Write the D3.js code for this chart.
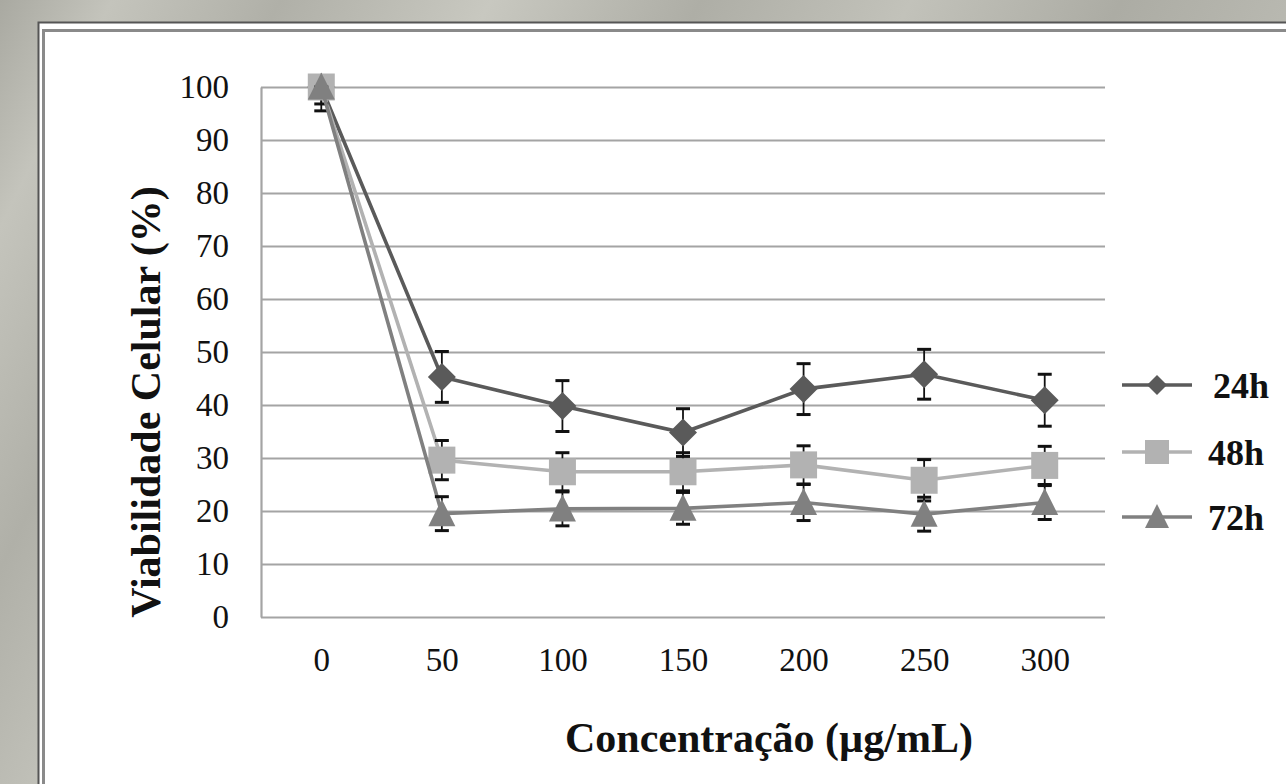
<!DOCTYPE html>
<html>
<head>
<meta charset="utf-8">
<script src="https://cdn.jsdelivr.net/npm/d3@7"></script>
<style>
  html, body { margin: 0; padding: 0; background: #b4b4ac; }
  svg { display: block; }
  text { font-family: "Liberation Serif", "Times New Roman", serif; fill: #111; }
</style>
</head>
<body>
<div id="chart"></div>
<script>
// values
var concentrations = ["0", "50", "100", "150", "200", "250", "300"];
var yTicks = [0, 10, 20, 30, 40, 50, 60, 70, 80, 90, 100];
var seriesNames = ["24h", "48h", "72h"];
var seriesColors = ["#5a5a5a", "#b2b2b2", "#808080"];
var seriesShapes = ["diamond", "square", "triangle"];

var v24 = [100, 45.3, 39.8, 34.8, 43.0, 45.8, 40.9];
var v48 = [100, 29.6, 27.4, 27.4, 28.7, 25.8, 28.6];
var v72 = [100, 19.5, 20.4, 20.5, 21.6, 19.4, 21.6];
var e24 = [4.5, 4.8, 4.8, 4.5, 4.8, 4.7, 4.9];
var e48 = [3.2, 3.7, 3.6, 3.6, 3.6, 3.9, 3.6];
var e72 = [1.5, 3.2, 3.2, 3.0, 3.4, 3.2, 3.2];

var W = 1286, H = 784;

var svg = d3.select("#chart").append("svg")
    .attr("width", W)
    .attr("height", H);

// textured grey backdrop
var defs = svg.append("defs");
var bg = defs.append("linearGradient").attr("id", "bgGrad")
    .attr("x1", "0").attr("x2", "1").attr("y1", "0").attr("y2", "0.3");
[["0", "#a9a9a1"], ["0.08", "#c4c4bc"], ["0.2", "#b0b0a8"], ["0.35", "#c8c8c0"],
 ["0.5", "#aeaea6"], ["0.65", "#c2c2ba"], ["0.8", "#acaca4"], ["1", "#c0c0b8"]].forEach(function(s) {
  bg.append("stop").attr("offset", s[0]).attr("stop-color", s[1]);
});
svg.append("rect").attr("width", W).attr("height", H).attr("fill", "url(#bgGrad)");

// frame of the white panel
svg.append("rect").attr("x", 38.5).attr("y", 22.5).attr("width", W).attr("height", H)
    .attr("fill", "#ffffff").attr("stroke", "#555").attr("stroke-width", 2);
svg.append("rect").attr("x", 43.5).attr("y", 30.5).attr("width", W).attr("height", H)
    .attr("fill", "#ffffff").attr("stroke", "#8a8a8a").attr("stroke-width", 3);

var plot = { left: 261, right: 1105, top: 87, bottom: 617 };

var x = d3.scalePoint()
    .domain(concentrations)
    .range([plot.left, plot.right])
    .padding(0.5);

var y = d3.scaleLinear()
    .domain([0, 100])
    .range([plot.bottom, plot.top]);

// gridlines + y labels
var yAxis = svg.append("g")
    .attr("transform", "translate(" + plot.left + ",0)")
    .call(d3.axisLeft(y).tickValues(yTicks)
      .tickSize(-(plot.right - plot.left)).tickSizeOuter(0).tickPadding(32));
yAxis.selectAll(".tick line").attr("stroke", "#a4a4a4").attr("stroke-width", 2.2);
yAxis.select(".domain").attr("stroke", "#a4a4a4").attr("stroke-width", 2.2);
yAxis.selectAll(".tick text")
    .style("font-family", "'Liberation Serif', serif")
    .style("font-size", "33px")
    .attr("fill", "#1a1a2a");

var xAxis = svg.append("g")
    .attr("transform", "translate(0," + plot.bottom + ")")
    .call(d3.axisBottom(x).tickSize(0).tickPadding(31));
xAxis.select(".domain").remove();
xAxis.selectAll(".tick text")
    .style("font-family", "'Liberation Serif', serif")
    .style("font-size", "33px")
    .attr("fill", "#1a1a2a");

// axis titles
svg.append("text")
    .attr("transform", "translate(160,402) rotate(-90)")
    .attr("text-anchor", "middle")
    .style("font-size", "42px")
    .style("font-weight", "bold")
    .text("Viabilidade Celular (%)");

svg.append("text")
    .attr("x", 769).attr("y", 752)
    .attr("text-anchor", "middle")
    .style("font-size", "42px")
    .style("font-weight", "bold")
    .text("Concentração (µg/mL)");

function markerPath(shape, s) {
  var r = s / 2;
  if (shape === "diamond") return "M0," + (-r) + "L" + r + ",0L0," + r + "L" + (-r) + ",0Z";
  if (shape === "square") return "M" + (-r) + "," + (-r) + "h" + s + "v" + s + "h" + (-s) + "Z";
  return "M0," + (-r - 1) + "L" + r + "," + (r - 1) + "L" + (-r) + "," + (r - 1) + "Z";
}

var series = [
  { name: seriesNames[0], values: v24, errors: e24, color: seriesColors[0], shape: seriesShapes[0] },
  { name: seriesNames[1], values: v48, errors: e48, color: seriesColors[1], shape: seriesShapes[1] },
  { name: seriesNames[2], values: v72, errors: e72, color: seriesColors[2], shape: seriesShapes[2] }
];

var line = d3.line()
    .x(function(d) { return x(d.c); })
    .y(function(d) { return y(d.v); });

series.forEach(function(s) {
  var pts = concentrations.map(function(c, i) { return { c: c, v: s.values[i], e: s.errors[i] }; });
  var g = svg.append("g");

  g.append("path")
      .datum(pts)
      .attr("d", line)
      .attr("fill", "none")
      .attr("stroke", s.color)
      .attr("stroke-width", 3.6);

  var eb = g.selectAll(".err").data(pts).enter().append("g")
      .attr("stroke", "#111")
      .attr("stroke-width", 1.8);
  eb.append("line")
      .attr("x1", function(d) { return x(d.c); })
      .attr("x2", function(d) { return x(d.c); })
      .attr("y1", function(d) { return y(Math.min(100, d.v + d.e)); })
      .attr("y2", function(d) { return y(d.v - d.e); });
  eb.append("line")
      .attr("x1", function(d) { return x(d.c) - 7; })
      .attr("x2", function(d) { return x(d.c) + 7; })
      .attr("y1", function(d) { return y(Math.min(100, d.v + d.e)); })
      .attr("y2", function(d) { return y(Math.min(100, d.v + d.e)); })
      .attr("stroke-width", 3);
  eb.append("line")
      .attr("x1", function(d) { return x(d.c) - 7; })
      .attr("x2", function(d) { return x(d.c) + 7; })
      .attr("y1", function(d) { return y(d.v - d.e); })
      .attr("y2", function(d) { return y(d.v - d.e); })
      .attr("stroke-width", 3);

  g.selectAll(".mk").data(pts).enter().append("path")
      .attr("transform", function(d) { return "translate(" + x(d.c) + "," + y(d.v) + ")"; })
      .attr("d", markerPath(s.shape, s.shape === "diamond" ? 28 : 27))
      .attr("fill", s.color);
});

// legend
var legendY = [385, 452, 517];
var legend = svg.selectAll(".legend").data(series).enter().append("g")
    .attr("transform", function(d, i) { return "translate(1122," + legendY[i] + ")"; });
legend.append("line")
    .attr("x1", 0).attr("x2", 70)
    .attr("stroke", function(d) { return d.color; })
    .attr("stroke-width", 3.6);
legend.append("path")
    .attr("transform", "translate(35,0)")
    .attr("d", function(d) { return markerPath(d.shape, d.shape === "diamond" ? 20 : 24); })
    .attr("fill", function(d) { return d.color; });
legend.append("text")
    .attr("x", function(d, i) { return i === 0 ? 91 : 86; })
    .attr("dy", "0.35em")
    .style("font-size", "36px")
    .style("font-weight", "bold")
    .text(function(d) { return d.name; });
</script>
</body>
</html>
